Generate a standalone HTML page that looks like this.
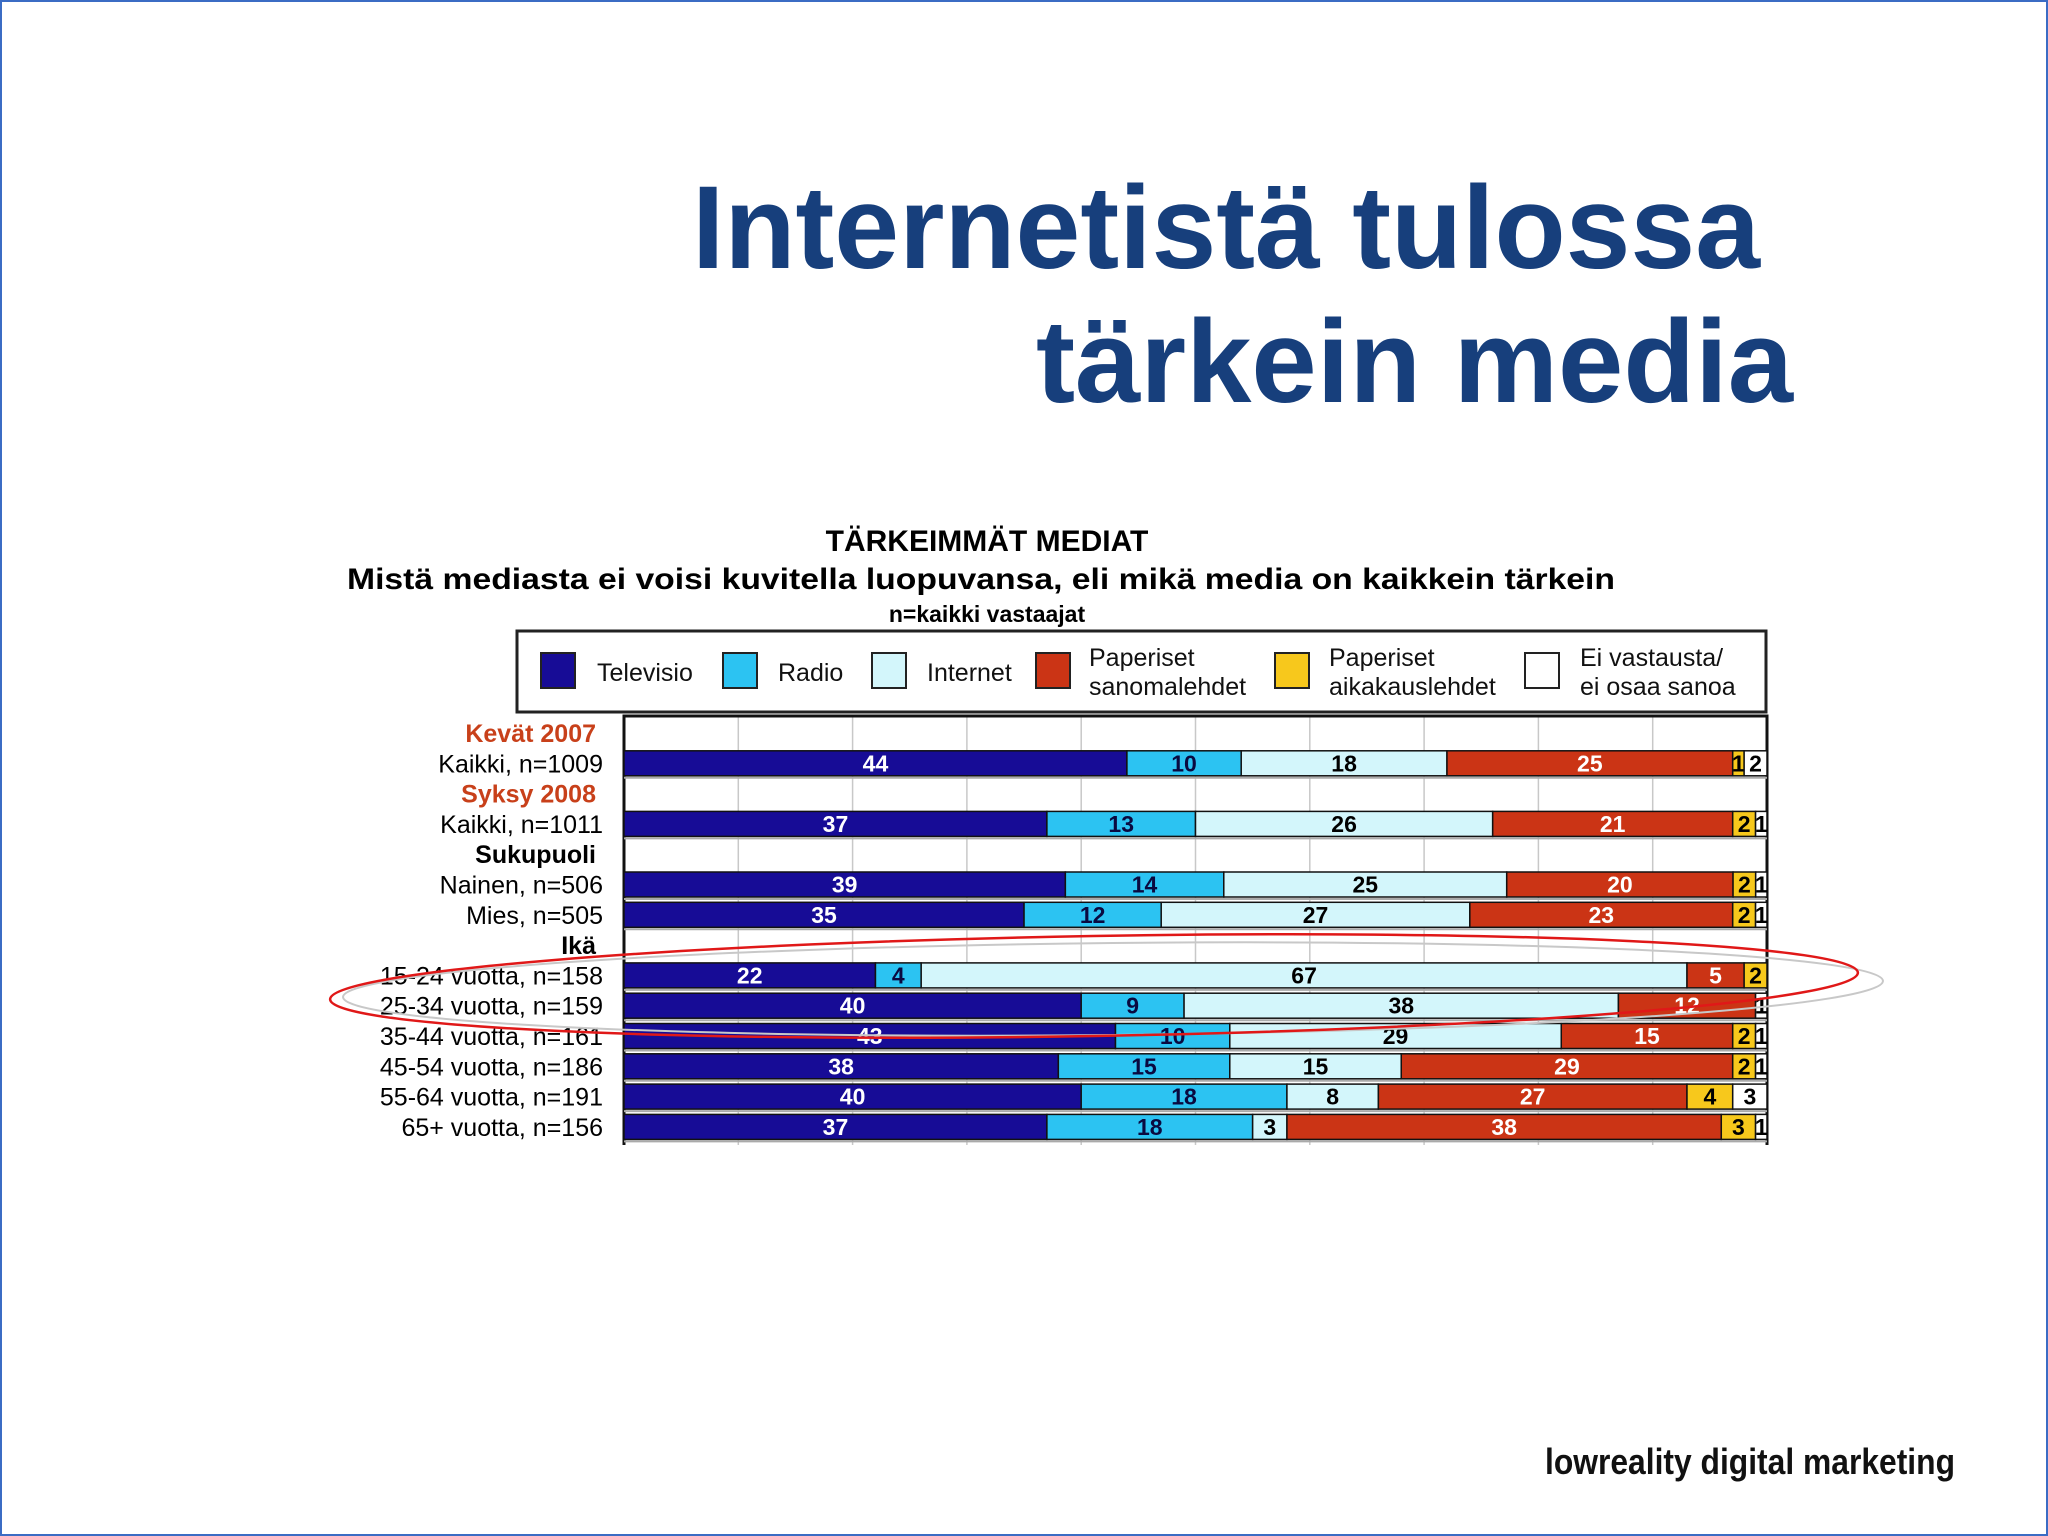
<!DOCTYPE html>
<html><head><meta charset="utf-8"><style>
html,body{margin:0;padding:0;background:#fff}
svg{display:block}
text{font-family:"Liberation Sans",Arial,sans-serif}
</style></head><body>
<svg id="s" width="2048" height="1536" viewBox="0 0 2048 1536" xmlns="http://www.w3.org/2000/svg">
<rect x="1" y="1" width="2046" height="1534" fill="#fff" stroke="#3b6cc4" stroke-width="2"/>
<text x="692" y="268" font-size="118" font-weight="bold" fill="#173f7c" textLength="1068" lengthAdjust="spacingAndGlyphs">Internetistä tulossa</text>
<text x="1036" y="402" font-size="118" font-weight="bold" fill="#173f7c" textLength="757" lengthAdjust="spacingAndGlyphs">tärkein media</text>
<text x="987" y="551" font-size="30" font-weight="bold" text-anchor="middle" fill="#000">TÄRKEIMMÄT MEDIAT</text>
<text x="981" y="589" font-size="30" font-weight="bold" text-anchor="middle" fill="#000" textLength="1268" lengthAdjust="spacingAndGlyphs">Mistä mediasta ei voisi kuvitella luopuvansa, eli mikä media on kaikkein tärkein</text>
<text x="987" y="622" font-size="23" font-weight="bold" text-anchor="middle" fill="#000">n=kaikki vastaajat</text>
<rect x="517" y="631" width="1249" height="81" fill="#fff" stroke="#222" stroke-width="3"/>
<g id="legend"></g>
<g id="chart"></g>
<ellipse cx="1113" cy="989" rx="770" ry="46" fill="none" stroke="#c8c8c8" stroke-width="2" transform="rotate(-0.6 1113 989)"/>
<ellipse cx="1094" cy="986" rx="764" ry="50" fill="none" stroke="#e01818" stroke-width="2.5" transform="rotate(-1 1094 986)"/>
<text x="1545" y="1474" font-size="36" font-weight="bold" font-family="Liberation Serif, serif" fill="#111" textLength="410" lengthAdjust="spacingAndGlyphs">lowreality digital marketing</text>
</svg>
<script>
const rowLabels=["Kevät 2007","Kaikki, n=1009","Syksy 2008","Kaikki, n=1011","Sukupuoli","Nainen, n=506","Mies, n=505","Ikä","15-24 vuotta, n=158","25-34 vuotta, n=159","35-44 vuotta, n=161","45-54 vuotta, n=186","55-64 vuotta, n=191","65+ vuotta, n=156"];
const rowType=["h-red","d","h-red","d","h-black","d","d","h-black","d","d","d","d","d","d"];
const televisio=[null,44,null,37,null,39,35,null,22,40,43,38,40,37];
const radio=[null,10,null,13,null,14,12,null,4,9,10,15,18,18];
const internet=[null,18,null,26,null,25,27,null,67,38,29,15,8,3];
const sanomalehdet=[null,25,null,21,null,20,23,null,5,12,15,29,27,38];
const aikakauslehdet=[null,1,null,2,null,2,2,null,2,0,2,2,4,3];
const eiVastausta=[null,2,null,1,null,1,1,null,0,1,1,1,3,1];
const seriesNames=["Televisio","Radio","Internet","Paperiset sanomalehdet","Paperiset aikakauslehdet","Ei vastausta/ ei osaa sanoa"];
const NS="http://www.w3.org/2000/svg";
const colors=["#170c96","#2cc3f2","#d3f6fb","#cb3415","#f7c81c","#ffffff"];
const textCol=["#fff","#0a0a40","#000","#fff","#000","#000"];
const series=[televisio,radio,internet,sanomalehdet,aikakauslehdet,eiVastausta];
const X0=624,X1=1767,Y0=716,Y1=1145,ROW=30.3,YC0=733,BH=25;
const xs=(v,tot)=>X0+(X1-X0)*v/tot;
const yc=i=>YC0+i*ROW;
function el(t,a,p){const e=document.createElementNS(NS,t);for(const k in a)e.setAttribute(k,a[k]);p.appendChild(e);return e;}
const chart=document.getElementById('chart');
const plot=el('rect',{x:X0,y:Y0,width:X1-X0,height:Y1-Y0,fill:'#fff'},chart);


for(let g=1;g<10;g++){
 const l=el('line',{x1:xs(g*10,100),x2:xs(g*10,100),y1:Y0,y2:Y1,stroke:'#c8c8c8','stroke-width':1.5},chart);
 
 
}
const fr=el('path',{d:`M${X0} ${Y1} V${Y0} H${X1} V${Y1}`,fill:'none',stroke:'#111','stroke-width':3},chart);


rowLabels.forEach((lab,i)=>{
 const t=rowType[i];
 const tx=el('text',{x:t[0]==='h'?596:603,y:yc(i)+9,'font-size':25,'text-anchor':'end',fill:t==='h-red'?'#c8401a':'#000','font-weight':t[0]==='h'?'bold':'normal'},chart);
 tx.textContent=lab;
 
 
 if(t!=='d')return;
 let tot=0;series.forEach(a=>{tot+=a[i]||0;});
 let acc=0;
 series.forEach((arr,s)=>{
  const v=arr[i];if(!v){return;}
  const r=el('rect',{x:xs(acc,tot),y:yc(i)-BH/2,width:xs(acc+v,tot)-xs(acc,tot),height:BH,fill:colors[s],stroke:'#111','stroke-width':1.5},chart);
  
  
  const lt=el('text',{x:(xs(acc,tot)+xs(acc+v,tot))/2,y:yc(i)+8,'font-size':23,'font-weight':'bold','text-anchor':'middle',fill:textCol[s]},chart);
  lt.textContent=v;
  
  
  acc+=v;
 });
 const sh=el('line',{x1:X0,x2:X1,y1:yc(i)+BH/2+2,y2:yc(i)+BH/2+2,stroke:'#aaa','stroke-width':2},chart);
 
 
});
const lg=document.getElementById('legend');
const sw=[541,723,872,1036,1275,1525];
const tx=[597,778,927,1089,1329,1580];
seriesNames.forEach((n,s)=>{
 const r=el('rect',{x:sw[s],y:653,width:34,height:35,fill:colors[s],stroke:'#222','stroke-width':2},lg);
 
 
 const parts=n==="Paperiset sanomalehdet"?["Paperiset","sanomalehdet"]:n==="Paperiset aikakauslehdet"?["Paperiset","aikakauslehdet"]:n.startsWith("Ei")?["Ei vastausta/","ei osaa sanoa"]:[n];
 parts.forEach((p,k)=>{
  const t=el('text',{x:tx[s],y:parts.length===1?681:666+k*29,'font-size':25,fill:'#111'},lg);
  t.textContent=p;
  
  
 });
});
</script>
</body></html>
